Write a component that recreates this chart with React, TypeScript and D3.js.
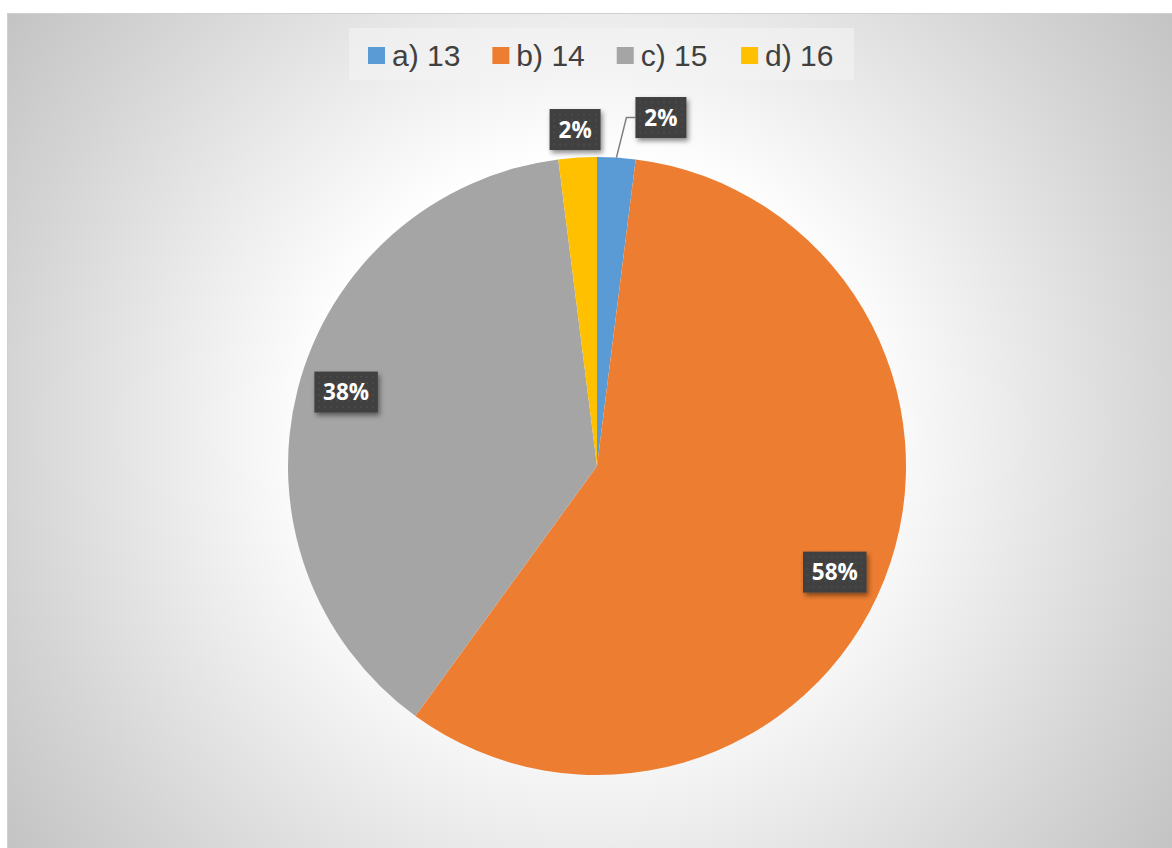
import React from "react";
import * as d3 from "d3";

// answer options and number of responses
const categories = ["a) 13", "b) 14", "c) 15", "d) 16"];
const counts = [1, 29, 19, 1];
const colors = ["#5B9BD5", "#ED7D31", "#A5A5A5", "#FFC000"];

const W = 1172;
const H = 848;

const App = () => {
  const cx = 597;
  const cy = 466;
  const r = 309;

  const total = d3.sum(counts);
  const pie = d3.pie<number>().sort(null).value((d) => d);
  const arcs = pie(counts);
  const arc = d3.arc<d3.PieArcDatum<number>>().innerRadius(0).outerRadius(r);
  const fmt = d3.format(".0%");

  // legend layout: square, gap, text, spacing
  const legendFont = 30;
  const charW = (s: string) =>
    s.split("").reduce((acc, c) => acc + (c === ")" ? 0.333 : c === " " ? 0.278 : 0.556), 0) * legendFont;
  let lx = 368;
  const legendItems = categories.map((c, i) => {
    const item = { x: lx, label: c, color: colors[i] };
    lx += 24 + charW(c) + 32;
    return item;
  });

  // small slices get their labels pushed outside the pie; Excel-ish best-fit tweaks
  const nudge = [
    { dx: 42, dy: 0 },
    { dx: -5, dy: 10 },
    { dx: 2, dy: -9 },
    { dx: 0, dy: 12 },
  ];

  const labels = arcs.map((a, i) => {
    const share = a.value / total;
    const mid = (a.startAngle + a.endAngle) / 2;
    const outside = share < 0.05;
    const rr = outside ? r * 1.13 : r * 0.845;
    const x = Math.sin(mid) * rr + nudge[i].dx;
    const y = -Math.cos(mid) * rr + nudge[i].dy;
    const text = fmt(share);
    const w = 26 + 12.5 * text.length;
    const h = 41;
    let leader: string | null = null;
    if (outside && nudge[i].dx > 0) {
      const ex = Math.sin(mid) * r;
      const ey = -Math.cos(mid) * r;
      const bx = x - w / 2;
      leader = `M${ex},${ey}L${bx - 9},${y}L${bx},${y}`;
    }
    return { x, y, w, h, text, leader };
  });

  return (
    <svg
      width={W}
      height={H}
      style={{ position: "absolute", left: 0, top: 0 }}
      fontFamily="'Liberation Sans', Arial, sans-serif"
    >
      <defs>
        <radialGradient id="bg" gradientUnits="userSpaceOnUse" cx={590} cy={430} r={1000}>
          <stop offset="0" stopColor="#ffffff" />
          <stop offset="0.27" stopColor="#ffffff" />
          <stop offset="0.42" stopColor="#ebebeb" />
          <stop offset="0.58" stopColor="#d5d5d5" />
          <stop offset="0.72" stopColor="#c3c3c3" />
          <stop offset="1" stopColor="#a0a0a0" />
        </radialGradient>
        <pattern id="dots" width="6" height="6" patternUnits="userSpaceOnUse">
          <rect width="6" height="6" fill="#404040" />
          <circle cx="3" cy="3" r="1" fill="#4c4c4c" />
        </pattern>
        <filter id="shadow" x="-30%" y="-30%" width="160%" height="170%">
          <feDropShadow dx="2" dy="3" stdDeviation="2.5" floodColor="#000" floodOpacity="0.45" />
        </filter>
      </defs>

      <rect x={0} y={0} width={W} height={H} fill="#ffffff" />
      <rect x={7.5} y={13.5} width={W} height={H} fill="url(#bg)" stroke="#d0d0d0" />

      {/* legend */}
      <rect x={349} y={28} width={505} height={52} fill="#f4f4f4" opacity={0.6} />
      {legendItems.map((d) => (
        <g key={d.label} transform={`translate(${d.x},0)`}>
          <rect x={0} y={47} width={17} height={17} fill={d.color} />
          <text x={24} y={66} fontSize={legendFont} fill="#404040">
            {d.label}
          </text>
        </g>
      ))}

      <g transform={`translate(${cx},${cy})`}>
        {arcs.map((a, i) => (
          <path key={i} d={arc(a) || ""} fill={colors[i]} />
        ))}
        {labels.map((l, i) =>
          l.leader ? <path key={"ld" + i} d={l.leader} fill="none" stroke="#7f7f7f" strokeWidth={1.5} /> : null
        )}
        {labels.map((l, i) => (
          <g key={"lb" + i} transform={`translate(${l.x},${l.y})`}>
            <rect x={-l.w / 2} y={-l.h / 2} width={l.w} height={l.h} fill="url(#dots)" filter="url(#shadow)" />
            <text
              x={0}
              y={8}
              textAnchor="middle"
              fontFamily="'Open Sans', 'DejaVu Sans', sans-serif"
              fontWeight="bold"
              fontSize={22.5}
              fill="#ffffff"
            >
              {l.text}
            </text>
          </g>
        ))}
      </g>
    </svg>
  );
};

export default App;
